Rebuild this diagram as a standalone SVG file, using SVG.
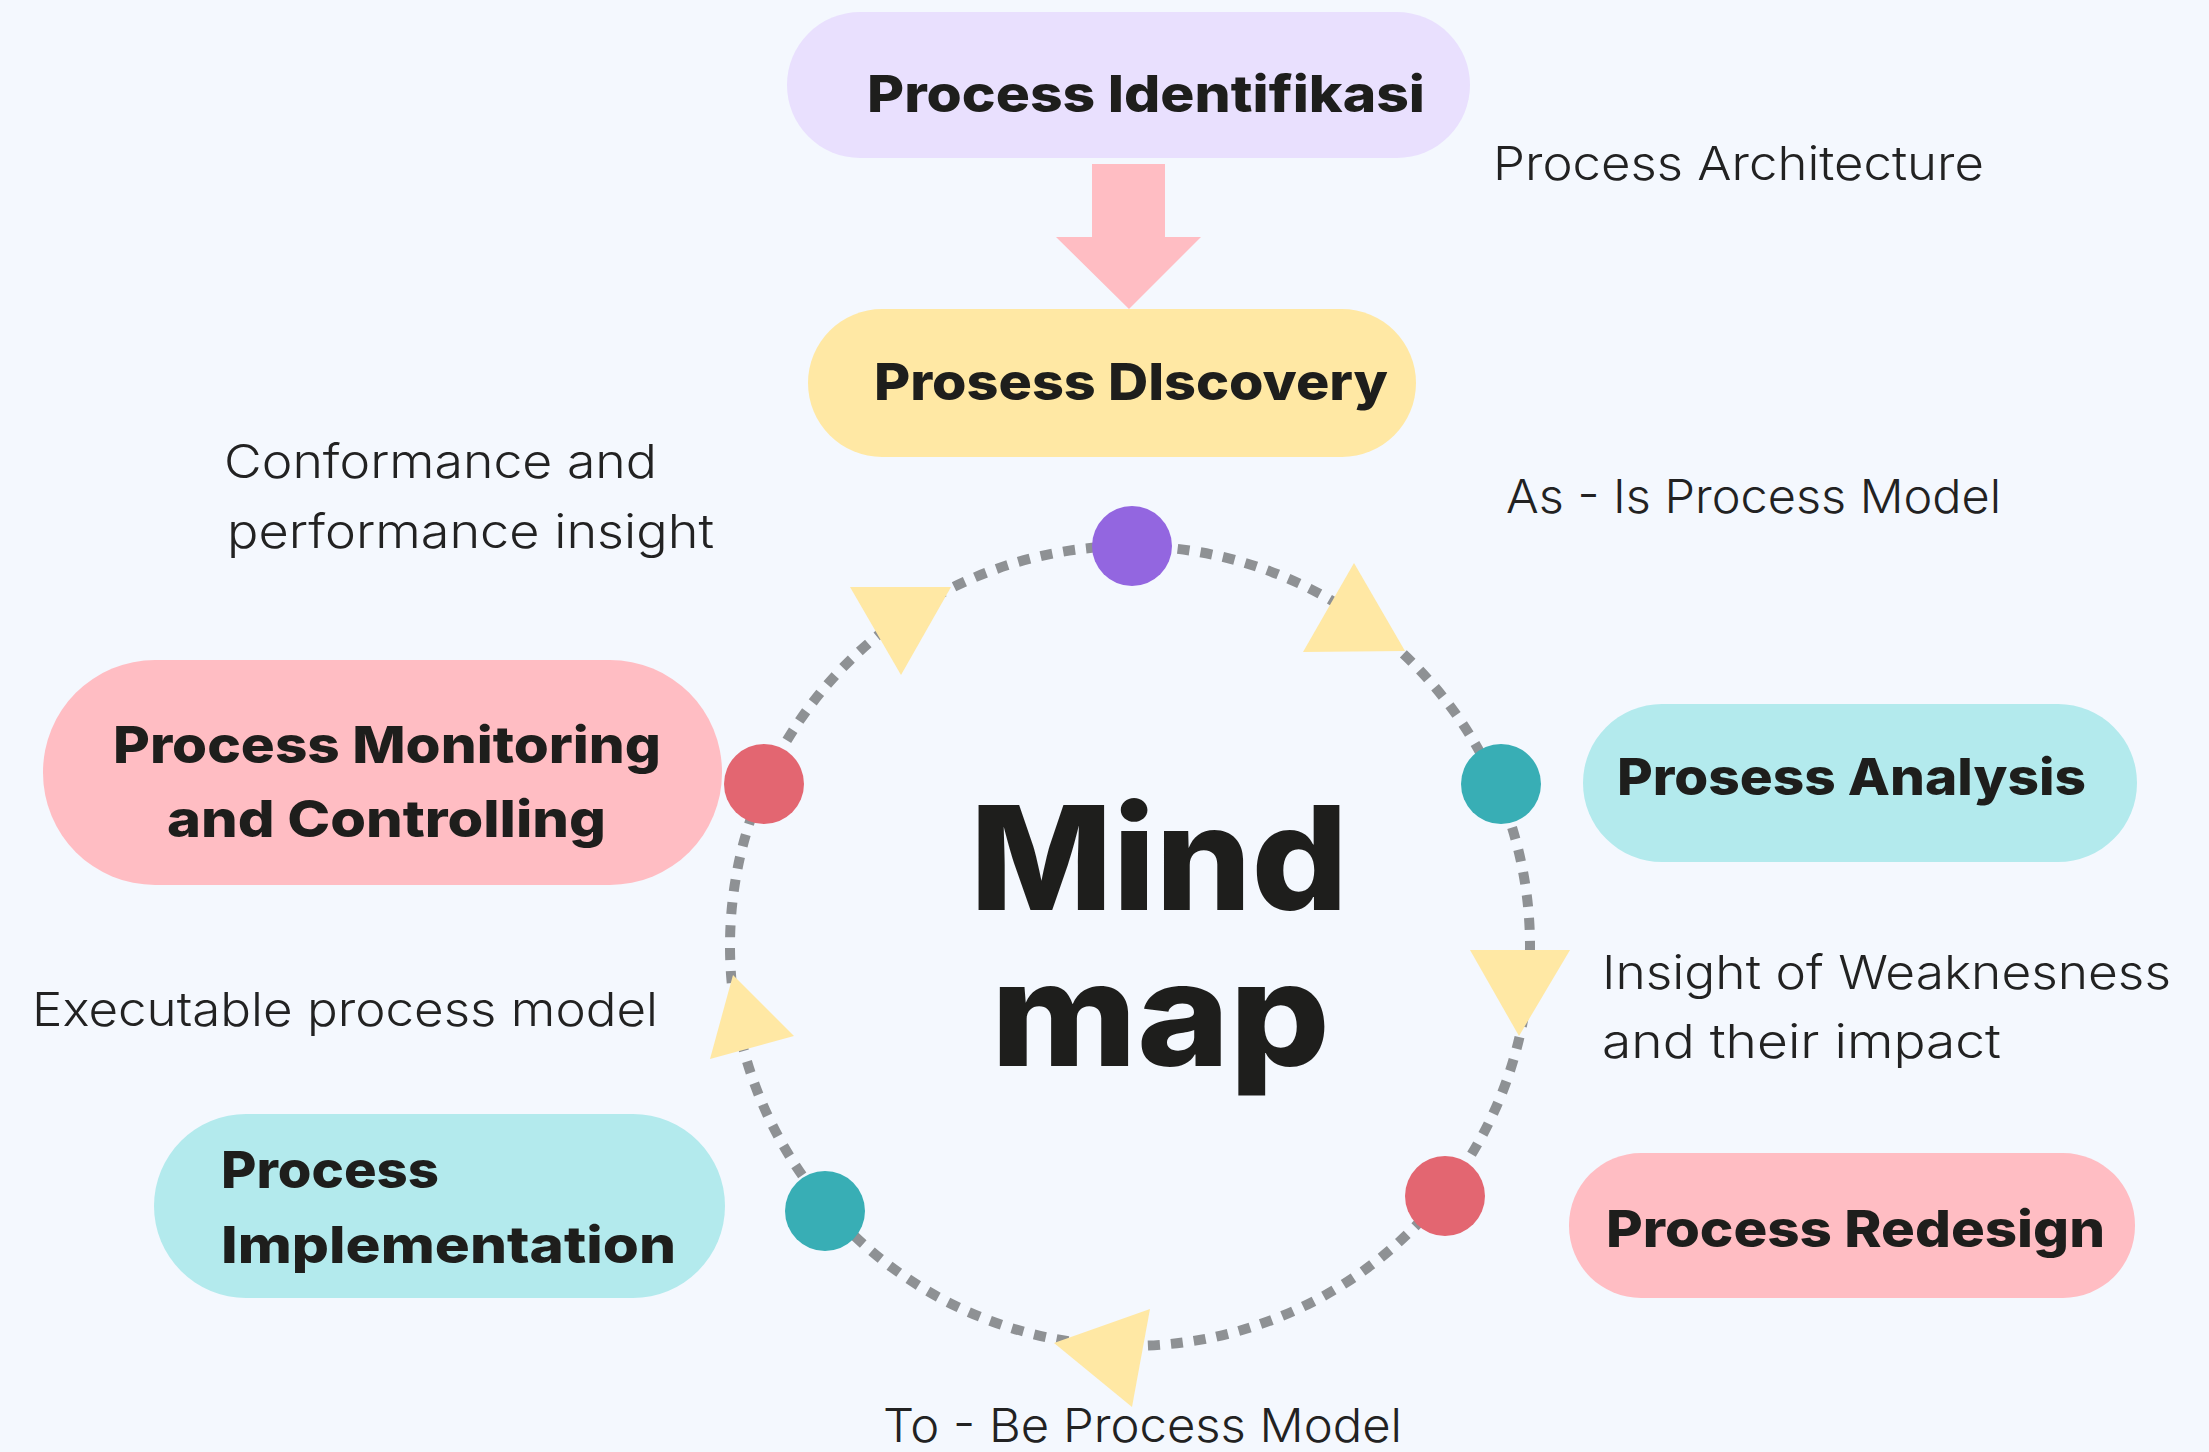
<svg xmlns="http://www.w3.org/2000/svg" width="2209" height="1452" viewBox="0 0 2209 1452">
<style>
.bg{fill:#F4F8FE}
.t-b{font-family:Inter,"Open Sans","Liberation Sans",sans-serif;font-weight:800;fill:#1E1E1C;font-size:51px}
.t-r{font-family:Inter,"Open Sans","Liberation Sans",sans-serif;font-weight:300;fill:#222222;font-size:47px}
.t-big{font-family:Inter,"Open Sans","Liberation Sans",sans-serif;font-weight:800;fill:#1E1E1C;font-size:145px}
.lav{fill:#E9E0FE}
.yel{fill:#FFE8A4}
.pink{fill:#FFBDC3}
.cyan{fill:#B3EAED}
.dash{fill:none;stroke:#8E9194;stroke-width:10;stroke-dasharray:12 11}
.tri{fill:#FFE8A4}
.d-purple{fill:#9366E0}
.d-red{fill:#E36671}
.d-teal{fill:#38AEB5}
</style>
<rect class="bg" x="0" y="0" width="2209" height="1452"/>

<g id="connectors">
  <circle class="dash" cx="1130" cy="946" r="400"/>
  <polygon class="pink" points="1092,164 1165,164 1165,237 1201,237 1129,309 1056,237 1092,237"/>
  <polygon class="tri" points="850,587 951,587 901,675"/>
  <polygon class="tri" points="1354,563 1405,651 1303,652"/>
  <polygon class="tri" points="1470,950 1570,950 1519,1036"/>
  <polygon class="tri" points="1150,1309 1132,1407 1054,1343"/>
  <polygon class="tri" points="733,975 794,1036 710,1059"/>
</g>

<g id="dots">
  <circle class="d-purple" cx="1132" cy="546" r="40"/>
  <circle class="d-red" cx="764" cy="784" r="40"/>
  <circle class="d-teal" cx="1501" cy="784" r="40"/>
  <circle class="d-teal" cx="825" cy="1211" r="40"/>
  <circle class="d-red" cx="1445" cy="1196" r="40"/>
</g>

<g id="node-identifikasi">
  <rect class="lav" x="787" y="12" width="683" height="146" rx="73"/>
  <text class="t-b" x="867" y="112" textLength="558" lengthAdjust="spacingAndGlyphs">Process Identifikasi</text>
</g>

<g id="node-discovery">
  <rect class="yel" x="808" y="309" width="608" height="148" rx="74"/>
  <text class="t-b" x="874" y="400" textLength="514" lengthAdjust="spacingAndGlyphs">Prosess DIscovery</text>
</g>

<g id="node-monitoring">
  <rect class="pink" x="43" y="660" width="679" height="225" rx="112"/>
  <text class="t-b" x="113" y="763" textLength="548" lengthAdjust="spacingAndGlyphs">Process Monitoring</text>
  <text class="t-b" x="167" y="837" textLength="439" lengthAdjust="spacingAndGlyphs">and Controlling</text>
</g>

<g id="node-analysis">
  <rect class="cyan" x="1583" y="704" width="554" height="158" rx="79"/>
  <text class="t-b" x="1617" y="795" textLength="469" lengthAdjust="spacingAndGlyphs">Prosess Analysis</text>
</g>

<g id="node-redesign">
  <rect class="pink" x="1569" y="1153" width="566" height="145" rx="72"/>
  <text class="t-b" x="1606" y="1247" textLength="499" lengthAdjust="spacingAndGlyphs">Process Redesign</text>
</g>

<g id="node-implementation">
  <rect class="cyan" x="154" y="1114" width="571" height="184" rx="92"/>
  <text class="t-b" x="221" y="1188" textLength="218" lengthAdjust="spacingAndGlyphs">Process</text>
  <text class="t-b" x="221" y="1263" textLength="455" lengthAdjust="spacingAndGlyphs">Implementation</text>
</g>

<g id="node-center">
  <text class="t-big"><tspan x="970" y="910" textLength="378" lengthAdjust="spacingAndGlyphs">Mind</tspan><tspan x="991" y="1066" textLength="339" lengthAdjust="spacingAndGlyphs">map</tspan></text>
</g>

<g id="labels">
  <text class="t-r" x="1493" y="180" textLength="491" lengthAdjust="spacingAndGlyphs">Process Architecture</text>
  <text class="t-r" x="1506" y="513" textLength="495" lengthAdjust="spacingAndGlyphs">As - Is Process Model</text>
  <text class="t-r" x="224" y="478" textLength="433" lengthAdjust="spacingAndGlyphs">Conformance and</text>
  <text class="t-r" x="227" y="548" textLength="487" lengthAdjust="spacingAndGlyphs">performance insight</text>
  <text class="t-r" x="1602" y="989" textLength="569" lengthAdjust="spacingAndGlyphs">Insight of Weaknesness</text>
  <text class="t-r" x="1602" y="1058" textLength="399" lengthAdjust="spacingAndGlyphs">and their impact</text>
  <text class="t-r" x="32" y="1026" textLength="626" lengthAdjust="spacingAndGlyphs">Executable process model</text>
  <text class="t-r" x="883" y="1442" textLength="519" lengthAdjust="spacingAndGlyphs">To - Be Process Model</text>
</g>
</svg>
